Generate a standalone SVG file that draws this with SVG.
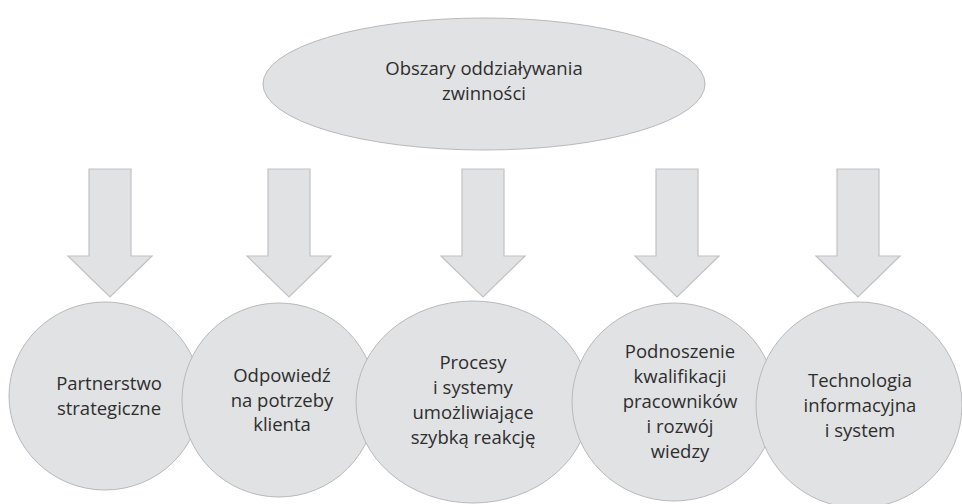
<svg xmlns="http://www.w3.org/2000/svg" width="962" height="504" viewBox="0 0 962 504">
  <defs>
    <style>
      .shape { fill: #e1e2e4; stroke: #b9b9bb; stroke-width: 1; }
      .arrow { fill: #e1e2e4; stroke: #c2c2c4; stroke-width: 1.2; }
      .label { font-family: "Open Sans", "Noto Sans", sans-serif; font-size: 18.5px; fill: #2e2e2e; text-anchor: middle; }
    </style>
    <!-- block arrow pointing down, centred on x=0 -->
    <polygon id="down-arrow" class="arrow" points="-21,169 21,169 21,256 42,256 0,297 -42,256 -21,256 -21,169"/>
  </defs>
  <rect width="962" height="504" fill="#ffffff"/>

  <!-- top node -->
  <g id="node-root">
    <ellipse class="shape" cx="484" cy="84" rx="221" ry="66"/>
    <text class="label" x="484" y="75">Obszary oddziaływania</text>
    <text class="label" x="484" y="100">zwinności</text>
  </g>

  <!-- connectors -->
  <g id="connectors">
    <use href="#down-arrow" x="110"/>
    <use href="#down-arrow" x="289"/>
    <use href="#down-arrow" x="483"/>
    <use href="#down-arrow" x="677"/>
    <use href="#down-arrow" x="858"/>
  </g>

  <!-- bottom nodes, each drawn over its left neighbour -->
  <g id="node-partnerstwo">
    <ellipse class="shape" cx="105" cy="396" rx="96" ry="94"/>
    <text class="label" x="109" y="390">Partnerstwo</text>
    <text class="label" x="109" y="415">strategiczne</text>
  </g>
  <g id="node-odpowiedz">
    <ellipse class="shape" cx="279" cy="400" rx="97" ry="97"/>
    <text class="label" x="282" y="382">Odpowiedź</text>
    <text class="label" x="282" y="407">na potrzeby</text>
    <text class="label" x="282" y="431">klienta</text>
  </g>
  <g id="node-procesy">
    <ellipse class="shape" cx="473" cy="402" rx="117" ry="101"/>
    <text class="label" x="473" y="369">Procesy</text>
    <text class="label" x="473" y="394">i systemy</text>
    <text class="label" x="473" y="419">umożliwiające</text>
    <text class="label" x="473" y="444">szybką reakcję</text>
  </g>
  <g id="node-kwalifikacje">
    <ellipse class="shape" cx="674" cy="402" rx="102" ry="99"/>
    <text class="label" x="680" y="358">Podnoszenie</text>
    <text class="label" x="680" y="383">kwalifikacji</text>
    <text class="label" x="680" y="408">pracowników</text>
    <text class="label" x="680" y="433">i rozwój</text>
    <text class="label" x="680" y="458">wiedzy</text>
  </g>
  <g id="node-technologia">
    <ellipse class="shape" cx="859" cy="405" rx="103" ry="103"/>
    <text class="label" x="860" y="387">Technologia</text>
    <text class="label" x="860" y="412">informacyjna</text>
    <text class="label" x="860" y="437">i system</text>
  </g>
</svg>
